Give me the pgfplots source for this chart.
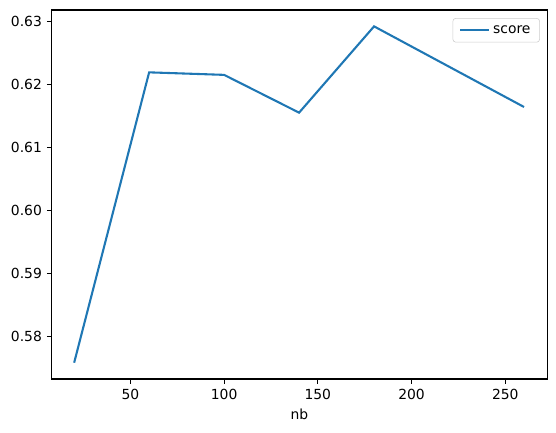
\documentclass[border=0pt]{standalone}
\usepackage{fontspec}
\setmainfont{DejaVu Sans}
\usepackage{pgfplots}
\pgfplotsset{compat=1.18}
\definecolor{mplblue}{HTML}{1F77B4}
\begin{document}
\begin{tikzpicture}
\begin{axis}[
  scale only axis,
  width=356.8pt, height=265.7pt,
  xmin=8, xmax=272.4,
  ymin=0.5732, ymax=0.6318,
  xtick={50,100,150,200,250},
  ytick={0.58,0.59,0.60,0.61,0.62,0.63},
  yticklabel style={/pgf/number format/.cd, fixed, fixed zerofill, precision=2},
  /pgf/number format/assume math mode=true,
  tick align=outside,
  tick pos=left,
  major tick length=3.5pt,
  every tick/.style={black, line width=0.8pt},
  axis line style={line width=0.8pt},
  xlabel={nb},
  ticklabel style={font=\fontsize{10}{12}\selectfont},
  label style={font=\fontsize{10}{12}\selectfont},
  legend style={at={(0.985,0.978)}, anchor=north east, draw=black!20, rounded corners=2pt,
    font=\fontsize{10}{12}\selectfont, inner xsep=4.5pt, inner ysep=3pt,
    /tikz/every even column/.append style={column sep=6pt}},
  legend image code/.code={\draw[#1] (0pt,0pt) -- (21pt,0pt);},
  legend cell align=left,
]
\addplot[mplblue, line width=1.5pt, no marks] coordinates {
  (20,0.5758) (60,0.6219) (100,0.6215) (140,0.6155) (180,0.6292) (260,0.6164)
};
\addlegendentry{score}
\end{axis}
\pgfresetboundingbox
\path (current axis.south west) ++(-37.2pt,-38.2pt) rectangle ([shift={(6.3pt,7.2pt)}]current axis.north east);
\end{tikzpicture}
\end{document}
